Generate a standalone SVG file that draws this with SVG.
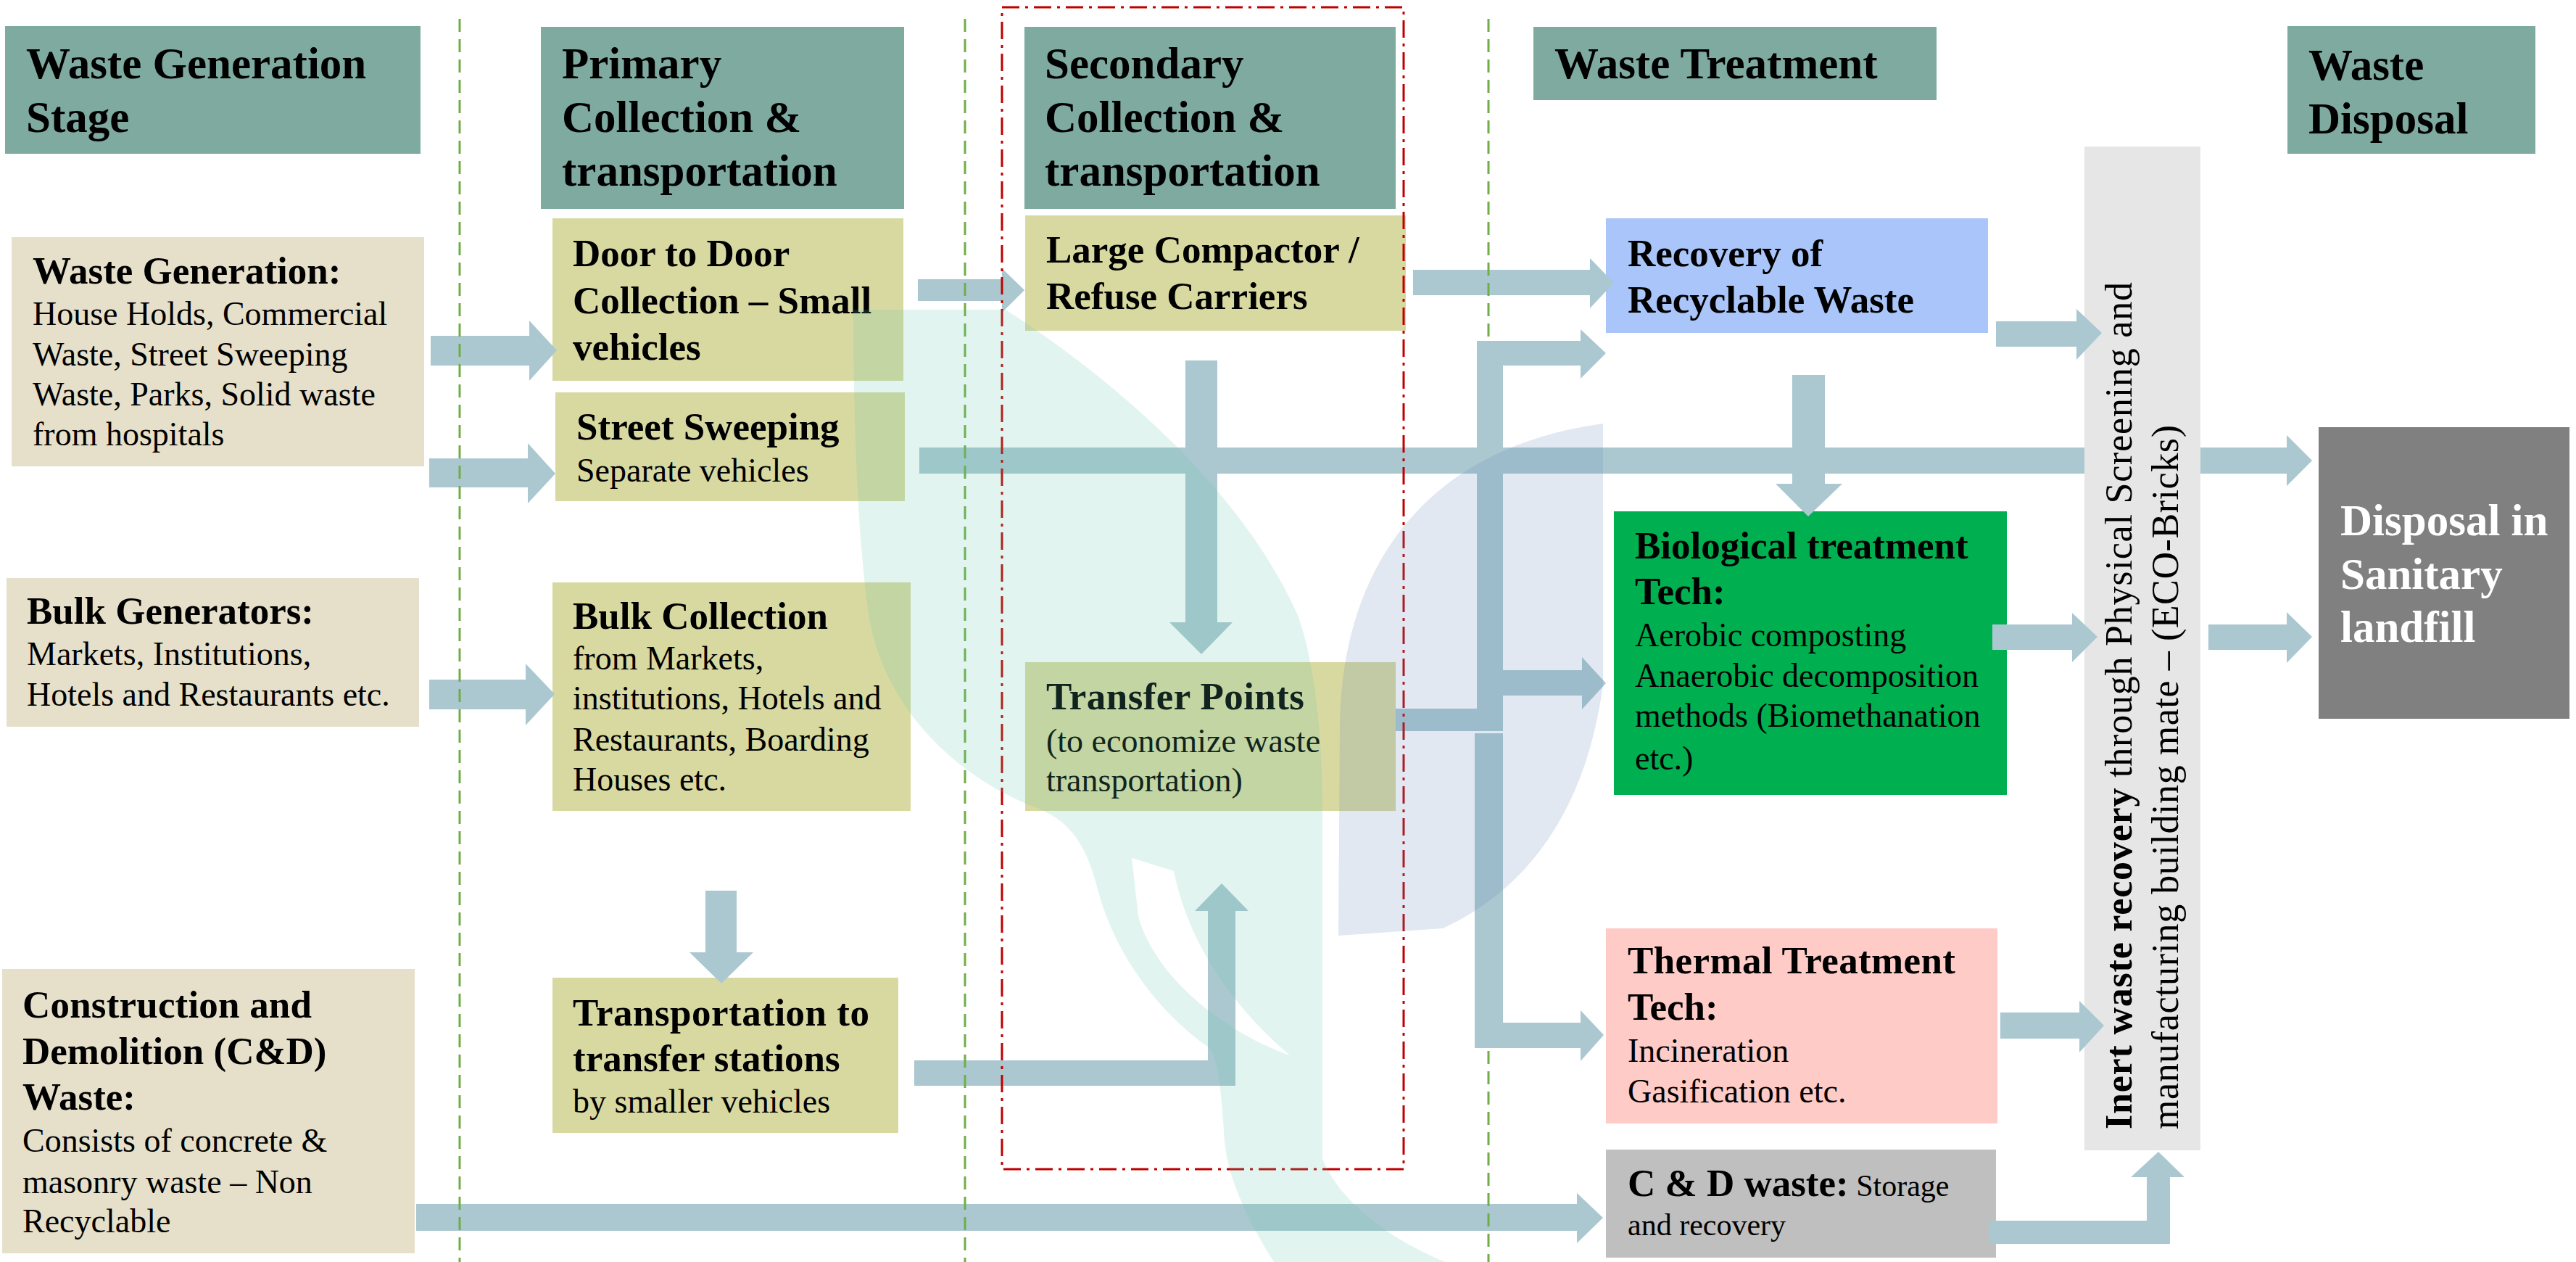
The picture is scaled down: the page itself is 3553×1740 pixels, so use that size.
<svg xmlns="http://www.w3.org/2000/svg" width="3553" height="1740" viewBox="0 0 3553 1740">
<defs>
<style>
text{font-family:"Liberation Serif","Times New Roman",serif;fill:#000}
.h{font-size:61px;font-weight:bold}
.t{font-size:53px;font-weight:bold}
.b{font-size:46px}
.s{font-size:42px}
.w{fill:#fff}
.hdr{fill:#7EAAA0}
.gen{fill:#E6E0CA}
.col{fill:#D8D9A1}
.arr{fill:#ABC8D0}
.lane{stroke:#70AD47;stroke-width:3;stroke-dasharray:18 10;fill:none}
</style>
</defs>
<rect width="3553" height="1740" fill="#fff"/>

<g id="headers">
<g id="h-generation"><rect class="hdr" x="7" y="36" width="573" height="176"/>
<text class="h" x="36" y="108">Waste Generation</text><text class="h" x="36" y="182">Stage</text></g>
<g id="h-primary"><rect class="hdr" x="746" y="37" width="501" height="251"/>
<text class="h" x="775" y="108">Primary</text><text class="h" x="775" y="182">Collection &amp;</text><text class="h" x="775" y="256">transportation</text></g>
<g id="h-secondary"><rect class="hdr" x="1413" y="37" width="512" height="251"/>
<text class="h" x="1441" y="108">Secondary</text><text class="h" x="1441" y="182">Collection &amp;</text><text class="h" x="1441" y="256">transportation</text></g>
<g id="h-treatment"><rect class="hdr" x="2115" y="37" width="556" height="101"/>
<text class="h" x="2144" y="108">Waste Treatment</text></g>
<g id="h-disposal"><rect class="hdr" x="3155" y="36" width="342" height="176"/>
<text class="h" x="3184" y="110">Waste</text><text class="h" x="3184" y="184">Disposal</text></g>
</g>

<g id="n-waste-generation"><rect class="gen" x="16" y="327" width="569" height="316"/>
<text class="t" x="45" y="391">Waste Generation:</text>
<text class="b" x="45" y="448">House Holds, Commercial</text>
<text class="b" x="45" y="504">Waste, Street Sweeping</text>
<text class="b" x="45" y="559">Waste, Parks, Solid waste</text>
<text class="b" x="45" y="614">from hospitals</text></g>

<g id="n-bulk-generators"><rect class="gen" x="9" y="797" width="569" height="205"/>
<text class="t" x="37" y="860">Bulk Generators:</text>
<text class="b" x="37" y="917">Markets, Institutions,</text>
<text class="b" x="37" y="973">Hotels and Restaurants etc.</text></g>

<g id="n-cd-source"><rect class="gen" x="3" y="1336" width="569" height="392"/>
<text class="t" x="31" y="1403" textLength="399" lengthAdjust="spacing">Construction and</text>
<text class="t" x="31" y="1467">Demolition (C&amp;D)</text>
<text class="t" x="31" y="1530">Waste:</text>
<text class="b" x="31" y="1588">Consists of concrete &amp;</text>
<text class="b" x="31" y="1645">masonry waste – Non</text>
<text class="b" x="31" y="1699">Recyclable</text></g>

<g id="n-door"><rect class="col" x="762" y="301" width="484" height="224"/>
<text class="t" x="790" y="367">Door to Door</text>
<text class="t" x="790" y="432">Collection – Small</text>
<text class="t" x="790" y="496">vehicles</text></g>

<g id="n-street"><rect class="col" x="766" y="541" width="482" height="150"/>
<text class="t" x="795" y="606">Street Sweeping</text>
<text class="b" x="795" y="664">Separate vehicles</text></g>

<g id="n-bulk-collection"><rect class="col" x="762" y="803" width="494" height="315"/>
<text class="t" x="790" y="867">Bulk Collection</text>
<text class="b" x="790" y="923">from Markets,</text>
<text class="b" x="790" y="978">institutions, Hotels and</text>
<text class="b" x="790" y="1035">Restaurants, Boarding</text>
<text class="b" x="790" y="1090">Houses etc.</text></g>

<g id="n-transportation"><rect class="col" x="762" y="1348" width="477" height="214"/>
<text class="t" x="790" y="1414" textLength="409" lengthAdjust="spacing">Transportation to</text>
<text class="t" x="790" y="1477">transfer stations</text>
<text class="b" x="790" y="1534">by smaller vehicles</text></g>

<g id="n-compactor"><rect class="col" x="1414" y="297" width="525" height="159"/>
<text class="t" x="1443" y="362">Large Compactor /</text>
<text class="t" x="1443" y="426">Refuse Carriers</text></g>

<g id="n-transfer"><rect class="col" x="1414" y="913" width="511" height="205"/>
<text class="t" x="1443" y="978" textLength="356" lengthAdjust="spacing">Transfer Points</text>
<text class="b" x="1443" y="1037">(to economize waste</text>
<text class="b" x="1443" y="1091">transportation)</text></g>

<g id="n-recovery"><rect x="2215" y="301" width="527" height="158" fill="#A9C5FA"/>
<text class="t" x="2245" y="367">Recovery of</text>
<text class="t" x="2245" y="431">Recyclable Waste</text></g>

<g id="n-biological"><rect x="2226" y="705" width="542" height="391" fill="#00B050"/>
<text class="t" x="2255" y="770">Biological treatment</text>
<text class="t" x="2255" y="833">Tech:</text>
<text class="b" x="2255" y="891">Aerobic composting</text>
<text class="b" x="2255" y="947">Anaerobic decomposition</text>
<text class="b" x="2255" y="1002">methods (Biomethanation</text>
<text class="b" x="2255" y="1061">etc.)</text></g>

<g id="n-thermal"><rect x="2215" y="1280" width="540" height="269" fill="#FECBC7"/>
<text class="t" x="2245" y="1342" textLength="452" lengthAdjust="spacing">Thermal Treatment</text>
<text class="t" x="2245" y="1406">Tech:</text>
<text class="b" x="2245" y="1464">Incineration</text>
<text class="b" x="2245" y="1520">Gasification  etc.</text></g>

<g id="n-cd-storage"><rect x="2215" y="1585" width="538" height="149" fill="#BFBFBF"/>
<text x="2245" y="1649"><tspan class="t">C &amp; D waste:</tspan><tspan class="s"> Storage</tspan></text>
<text class="s" x="2245" y="1703">and recovery</text></g>

<g id="n-inert"><rect x="2875" y="202" width="160" height="1384" fill="#E6E6E6"/>
<text transform="translate(2940,1557) rotate(-90)" style="font-size:52px" textLength="1168" lengthAdjust="spacing"><tspan font-weight="bold">Inert waste recovery</tspan> through Physical Screening and</text>
<text transform="translate(3004,1557) rotate(-90)" style="font-size:52px" textLength="971" lengthAdjust="spacing">manufacturing building mate – (ECO-Bricks)</text></g>

<g id="n-landfill"><rect x="3198" y="589" width="346" height="402" fill="#808080"/>
<text class="h w" x="3228" y="738">Disposal in</text>
<text class="h w" x="3228" y="812">Sanitary</text>
<text class="h w" x="3228" y="885">landfill</text></g>

<g id="connectors">
<polygon class="arr" points="594,463 730,463 730,442 768,483 730,525 730,504 594,504"/>
<polygon class="arr" points="592,632 728,632 728,611 766,653 728,694 728,672 592,672"/>
<polygon class="arr" points="1266,385 1382,385 1382,370 1413,400 1382,431 1382,415 1266,415"/>
<polygon class="arr" points="1949,372 2193,372 2193,356 2226,390 2193,425 2193,407 1949,407"/>
<polygon class="arr" points="1268,617 2875,617 2875,653 1268,653"/>
<polygon class="arr" points="3035,617 3154,617 3154,600 3189,635 3154,670 3154,653 3035,653"/>
<polygon class="arr" points="1635,497 1679,497 1679,858 1700,858 1657,902 1613,858 1635,858"/>
<polygon class="arr" points="2472,517 2517,517 2517,667 2541,667 2494,712 2449,667 2472,667"/>
<polygon class="arr" points="2753,443 2864,443 2864,426 2899,459 2864,496 2864,478 2753,478"/>
<polygon class="arr" points="2748,861 2858,861 2858,845 2893,878 2858,913 2858,896 2748,896"/>
<polygon class="arr" points="3046,861 3154,861 3154,844 3189,878 3154,914 3154,896 3046,896"/>
<polygon class="arr" points="2759,1396 2868,1396 2868,1380 2902,1414 2868,1451 2868,1432 2759,1432"/>
<polygon class="arr" points="1925,977 2037,977 2037,470 2180,470 2180,454 2215,487 2180,522 2180,504 2073,504 2073,924 2182,924 2182,906 2215,942 2182,978 2182,959 2073,959 2073,1008 1925,1008"/>
<polygon class="arr" points="2034,1011 2073,1011 2073,1410 2180,1410 2180,1393 2212,1427 2180,1463 2180,1445 2034,1445"/>
<polygon class="arr" points="1261,1462 1666,1462 1666,1256 1648,1256 1685,1218 1722,1256 1704,1256 1704,1497 1261,1497"/>
<polygon class="arr" points="574,1660 2175,1660 2175,1645 2211,1679 2175,1714 2175,1697 574,1697"/>
<polygon class="arr" points="592,937 725,937 725,915 765,957 725,1000 725,978 592,978"/>
<polygon class="arr" points="973,1228 1016,1228 1016,1313 1039,1313 995,1356 951,1313 973,1313"/>
<polygon class="arr" points="2743,1683 2961,1683 2961,1623 2939,1623 2977,1588 3013,1623 2993,1623 2993,1715 2743,1715"/>
</g>

<g id="lanes">
<line class="lane" x1="634" y1="26" x2="634" y2="1740"/>
<line class="lane" x1="1331" y1="26" x2="1331" y2="1740"/>
<line class="lane" x1="2053" y1="26" x2="2053" y2="470"/>
<line class="lane" x1="2053" y1="1449" x2="2053" y2="1740"/>
<rect x="1382" y="10" width="554" height="1602" fill="none" stroke="#C00000" stroke-width="3" stroke-dasharray="24 8 4 8"/>
</g>

<g id="watermark">
<path fill="#5FC4A8" fill-opacity="0.18" fill-rule="evenodd" d="M1177,427 L1387,427 C1500,500 1700,650 1789,846 C1810,900 1824,1000 1824,1118 L1824,1598 C1850,1660 1920,1710 1994,1740 L1757,1740 C1720,1680 1690,1620 1688,1560 C1684,1500 1680,1460 1668,1445 C1600,1397 1540,1320 1515,1230 C1500,1170 1480,1130 1420,1110 C1300,1060 1215,960 1198,846 C1185,760 1177,600 1177,427 Z M1561,1183 L1619,1201 C1635,1280 1680,1370 1779,1455 C1680,1420 1590,1340 1570,1263 Z"/>
<path fill="#6A8CB8" fill-opacity="0.2" d="M1846,1290 L1848,1000 C1850,800 1950,620 2211,584 L2211,944 C2190,1100 2120,1220 1990,1280 Z"/>
</g>
</svg>
